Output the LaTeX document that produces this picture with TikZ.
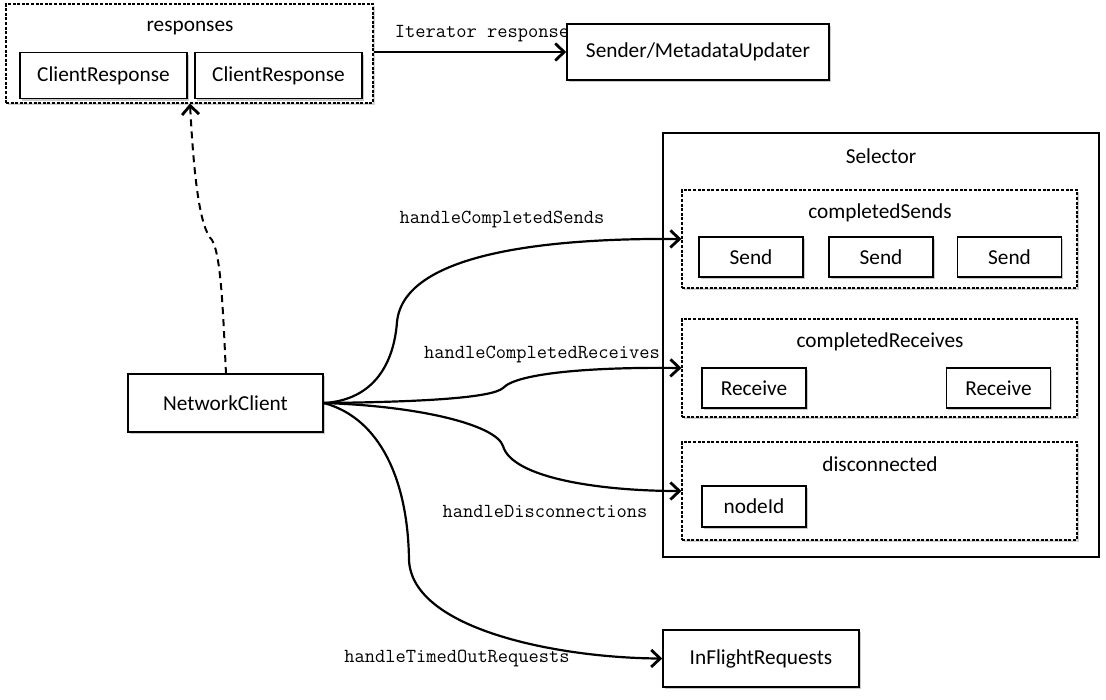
\documentclass[tikz,border=0pt]{standalone}
\usepackage{fontspec}
\setmainfont{Carlito}
\usetikzlibrary{arrows.meta,shadows}
\begin{document}
\begin{tikzpicture}[x=1pt,y=-1pt,
  lbl/.style={font=\fontsize{21.3}{25}\selectfont, inner sep=0pt},
  mono/.style={font=\ttfamily\fontsize{19.9}{23}\selectfont, inner sep=0pt},
  box/.style={draw, line width=1.5pt, fill=white, inner sep=0pt,
    font=\fontsize{21.3}{25}\selectfont,
    drop shadow={shadow xshift=1.5pt, shadow yshift=-2pt, opacity=0.35, fill=black!60}},
  group/.style={draw, line width=1.1pt, dash pattern=on 3pt off 1.6pt, fill=white, inner sep=0pt,
    drop shadow={shadow xshift=1.5pt, shadow yshift=-2pt, opacity=0.3, fill=black!60}},
  outer/.style={draw, line width=1.5pt, fill=white, inner sep=0pt},
  conn/.style={line width=2.2pt, -{Straight Barb[length=9pt,width=17pt,line width=2.8pt]}},
]
\useasboundingbox (0,0) rectangle (1106,699);

% responses group
\node[group, minimum width=367, minimum height=99] (resp) at (189.5,53.5) {};
\node[lbl] (respT) at (190,28) {responses};
\node[box, minimum width=167, minimum height=46] (cr1) at (103.5,75.5) {ClientResponse};
\node[box, minimum width=167, minimum height=46] (cr2) at (278.5,75.5) {ClientResponse};

% Sender
\node[box, minimum width=262, minimum height=56] (sender) at (698,52) {Sender/MetadataUpdater};

% Selector
\node[outer, minimum width=436, minimum height=424] (sel) at (881,345) {};
\node[lbl] (selT) at (881,156) {Selector};

\node[group, minimum width=395, minimum height=98] (cs) at (879.5,239) {};
\node[lbl] (csT) at (880,213) {completedSends};
\node[box, minimum width=104, minimum height=40] (s1) at (751,257) {Send};
\node[box, minimum width=104, minimum height=40] (s2) at (881,257) {Send};
\node[box, minimum width=104, minimum height=40] (s3) at (1009.5,257) {Send};

\node[group, minimum width=395, minimum height=98] (cr) at (879.5,368) {};
\node[lbl] (crT) at (880,342) {completedReceives};
\node[box, minimum width=104, minimum height=40] (r1) at (754,388) {Receive};
\node[box, minimum width=104, minimum height=40] (r2) at (998.5,388) {Receive};

\node[group, minimum width=395, minimum height=98] (dc) at (879.5,491) {};
\node[lbl] (dcT) at (880,464) {disconnected};
\node[box, minimum width=104, minimum height=41] (nid) at (754,506.5) {nodeId};

% InFlightRequests
\node[box, minimum width=196, minimum height=57] (ifr) at (761,658.5) {InFlightRequests};

% NetworkClient
\node[box, minimum width=195, minimum height=58] (nc) at (225.5,403) {NetworkClient};

% connectors
\draw[conn] (resp.east |- sender.west) -- (sender.west);
\node[mono] (itL) at (482,34) {Iterator response};

\draw[line width=2pt, dash pattern=on 7pt off 5pt,
  -{Straight Barb[length=9pt,width=17pt,line width=2.8pt]}]
  (226,374) .. controls (223,310) and (221,255) .. (212,240)
  .. controls (200,228) and (194,180) .. (resp.south -| 190,0);

\coordinate (o) at (nc.east);
\draw[conn] (o) .. controls (375,400) and (394,362) .. (397,322)
  .. controls (404,250) and (560,238) .. (cs.west);
\draw[conn] (o) .. controls (420,402) and (492,398) .. (503,388)
  .. controls (518,372) and (600,367) .. (cr.west);
\draw[conn] (o) .. controls (420,406) and (496,425) .. (503,446)
  .. controls (512,478) and (600,491) .. (dc.west);
\draw[conn] (o) .. controls (380,418) and (408,480) .. (409,560)
  .. controls (412,630) and (560,658) .. (ifr.west);

\node[mono] (l1) at (502,220) {handleCompletedSends};
\node[mono] (l2) at (542,355) {handleCompletedReceives};
\node[mono] (l3) at (545,511) {handleDisconnections};
\node[mono] (l4) at (457,659) {handleTimedOutRequests};
\end{tikzpicture}
\end{document}
